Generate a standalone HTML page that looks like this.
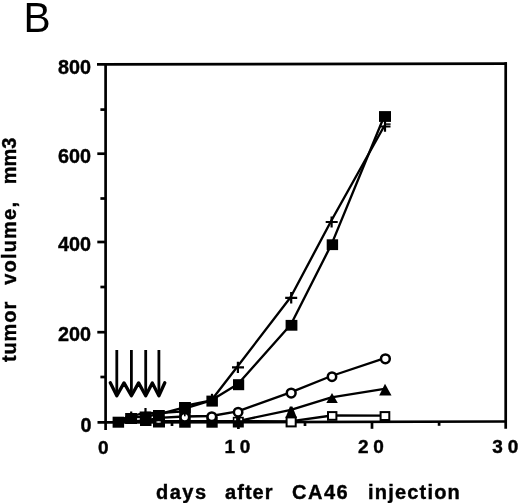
<!DOCTYPE html>
<html><head><meta charset="utf-8">
<style>
html,body{margin:0;padding:0;background:#fff;}
body{width:520px;height:504px;overflow:hidden;position:relative;}
svg{position:absolute;left:0;top:0;filter:grayscale(1);}
text{font-family:"Liberation Sans",sans-serif;fill:#000;}
.b{font-weight:bold;stroke:#000;stroke-width:0.4px;}
</style></head><body>
<svg width="520" height="504" viewBox="0 0 520 504">
<!-- panel letter -->
<text transform="translate(23.6,32.4) scale(0.94,1)" font-size="43.3">B</text>

<!-- frame -->
<g stroke="#000" stroke-width="2.7" fill="none" stroke-linecap="butt">
  <line x1="97" y1="64.3" x2="507" y2="63.6"/>
  <line x1="105.6" y1="63" x2="105.6" y2="430"/>
  <line x1="505.7" y1="62.3" x2="505.7" y2="428.8"/>
  <line x1="97.5" y1="422.4" x2="505.7" y2="421.5"/>
  <!-- y major ticks -->
  <line x1="97.3" y1="153.7" x2="105.6" y2="153.7"/>
  <line x1="97.3" y1="242" x2="105.6" y2="242"/>
  <line x1="97.3" y1="332.2" x2="105.6" y2="332.2"/>
  <!-- y minor ticks -->
  <line x1="100.4" y1="109.6" x2="105.6" y2="109.6"/>
  <line x1="100.4" y1="198.5" x2="105.6" y2="198.5"/>
  <line x1="100.4" y1="287" x2="105.6" y2="287"/>
  <line x1="100.4" y1="377" x2="105.6" y2="377"/>
  <!-- x ticks -->
  <line x1="238.4" y1="422" x2="238.4" y2="429"/>
  <line x1="372" y1="421.8" x2="372" y2="428.8"/>
  <line x1="172" y1="422" x2="172" y2="426"/>
  <line x1="305" y1="421.8" x2="305" y2="426"/>
  <line x1="439.1" y1="421.6" x2="439.1" y2="425.8"/>
</g>

<!-- y labels -->
<g class="b" font-size="19.8" text-anchor="end">
  <text x="91" y="73.6">800</text>
  <text x="91" y="163">600</text>
  <text x="91" y="251.3">400</text>
  <text x="91" y="341">200</text>
  <text x="91.5" y="431.9">0</text>
</g>
<!-- x labels -->
<g class="b" font-size="19">
  <text x="98" y="453.5">0</text>
  <text x="224.5" y="453" letter-spacing="4.6">10</text>
  <text x="358" y="453" letter-spacing="4.6">20</text>
  <text x="492.3" y="453" letter-spacing="4.9">30</text>
</g>
<!-- x title -->
<g class="b" font-size="20">
  <text x="156" y="498.5" letter-spacing="1.5">days</text>
  <text x="225" y="498.5" letter-spacing="1.05">after</text>
  <text x="292" y="498.5" letter-spacing="1.5">CA46</text>
  <text x="368" y="498.5" letter-spacing="1.2">injection</text>
</g>
<!-- y title -->
<g class="b" font-size="20" transform="rotate(-90)">
  <text x="-362.1" y="15.9" letter-spacing="0.9">tumor</text>
  <text x="-284.8" y="15.9" letter-spacing="1.2">volume,</text>
  <text x="-184.3" y="15.9">mm3</text>
</g>

<!-- arrows -->
<g stroke="#000" stroke-width="2.8" fill="none" stroke-linejoin="round" stroke-linecap="butt">
  <line x1="116.8" y1="350" x2="116.8" y2="395"/>
  <line x1="131.4" y1="350" x2="131.4" y2="395"/>
  <line x1="145.7" y1="350" x2="145.7" y2="395"/>
  <line x1="158.9" y1="350" x2="158.9" y2="395"/>
  <polyline stroke-width="3.3" stroke-linecap="round" points="110.3,382.8 116.8,395.8 124,382.9 131.4,395.8 138.6,382.9 145.7,395.8 152.3,382.9 158.9,395.8 164.8,382.8"/>
</g>

<!-- data: filled squares series -->
<g stroke="#000" stroke-width="2.35" fill="none" stroke-linejoin="round" transform="translate(-0.6,-0.7)">
  <polyline points="118.3,422.2 131.2,418.5 145.5,417 158.8,415.2 185,408.1 185,406.6 212,401 238.6,384.7 291.5,325.2 332.3,244.6 385,116.5"/>
  <!-- plus series -->
  <polyline points="118.3,421 131.2,417 145.5,413.5 158.8,413.9 185,412 185,409.3 212,401 237.9,367.4 291.2,297.9 331.6,222 385,126.5"/>
  <!-- triangle series -->
  <polyline points="118.3,421.8 131.2,421.8 145.5,421.8 158.8,421.8 185,421.8 212,421.8 238.5,421.8 291.5,410.5 332,398 385,389.6"/>
  <!-- open square series -->
  <polyline points="238.5,421.8 290.7,422 332.5,416.2 385.2,416.4"/>
  <!-- circle series -->
  <polyline points="118.3,421.5 131.2,421.5 145.5,421.5 158.8,418.6 184.8,417.2 211.8,416.7 238.3,412 291.2,393.1 332,376.7 385.4,358.8"/>
</g>

<!-- zero-value filled squares -->
<g fill="#000">
  <rect x="179.2" y="402" width="11.5" height="25.7"/>
  <rect x="206.4" y="416.5" width="11.3" height="11.2"/>
  <rect x="232.8" y="416.8" width="11" height="10.7"/>
  <rect x="153" y="416.5" width="12" height="11"/>
  <rect x="140" y="415" width="11.5" height="11"/>
  <rect x="125.4" y="413" width="11.5" height="11"/>
</g>
<!-- filled squares markers -->
<g fill="#000">
  <rect x="112.6" y="416.7" width="11.5" height="11"/>
  <rect x="125.4" y="413" width="11.5" height="11"/>
  <rect x="139.7" y="411.5" width="11.5" height="11"/>
  <rect x="153" y="410" width="11.8" height="11"/>
  <rect x="179.2" y="402" width="11.5" height="11"/>
  <rect x="206.4" y="395.6" width="11.5" height="11"/>
  <rect x="233" y="379.2" width="11.2" height="11"/>
  <rect x="285.6" y="319.9" width="11.8" height="10.8"/>
  <rect x="326.7" y="239.3" width="11.4" height="10.8"/>
  <rect x="379" y="111.1" width="12" height="10.8"/>
</g>
<ellipse cx="158.6" cy="422" rx="2.5" ry="0.8" fill="#fff"/>
<rect x="234.3" y="418.4" width="1.8" height="1.8" fill="#fff"/>
<rect x="240.3" y="418.4" width="1.8" height="1.8" fill="#fff"/>
<!-- plus markers -->
<g stroke="#000" stroke-width="2.2" fill="none">
  <path d="M125.4,417h11.6M131.2,411.5v11"/>
  <path d="M139.7,413.5h11.6M145.5,408v11"/>
  <path d="M212,393.8v5"/>
  <path d="M232,367.4h12M237.9,361.7v11.4"/>
  <path d="M285.2,297.9h12M291.2,292v11.4"/>
  <path d="M325.7,222h12M331.6,216.4v11.2"/>
  <path d="M379.5,126.5h11M385,121v10.8"/>
  <path d="M386,124.1h4.6" stroke-width="1.5"/>
</g>
<!-- triangles -->
<g fill="#000">
  <polygon points="285.4,418 289.9,406.6 292.4,406.6 297,418"/>
  <polygon points="326.3,403 332,393.1 337.8,403"/>
  <polygon points="379.2,395.4 385,383.8 391.5,395.4"/>
</g>
<!-- open squares -->
<g fill="#fff" stroke="#000" stroke-width="2">
  <rect x="286.6" y="417.4" width="9.1" height="9"/>
  <rect x="328" y="412.1" width="8.4" height="7.7"/>
  <rect x="380.6" y="412.1" width="8.7" height="7.9"/>
</g>
<!-- open circles -->
<g fill="#fff" stroke="#000" stroke-width="2.5">
  
  <circle cx="184.8" cy="417.2" r="4.3"/>
  <circle cx="211.8" cy="416.7" r="4.3"/>
  <circle cx="238.1" cy="412.2" r="4.2"/>
  <circle cx="291.2" cy="393.1" r="4.4"/>
  <circle cx="332" cy="376.7" r="4.2"/>
  <circle cx="385.4" cy="358.8" r="4.4"/>
</g>
<rect x="184" y="413.5" width="1.6" height="2.8" fill="#000"/>
</svg>
</body></html>
